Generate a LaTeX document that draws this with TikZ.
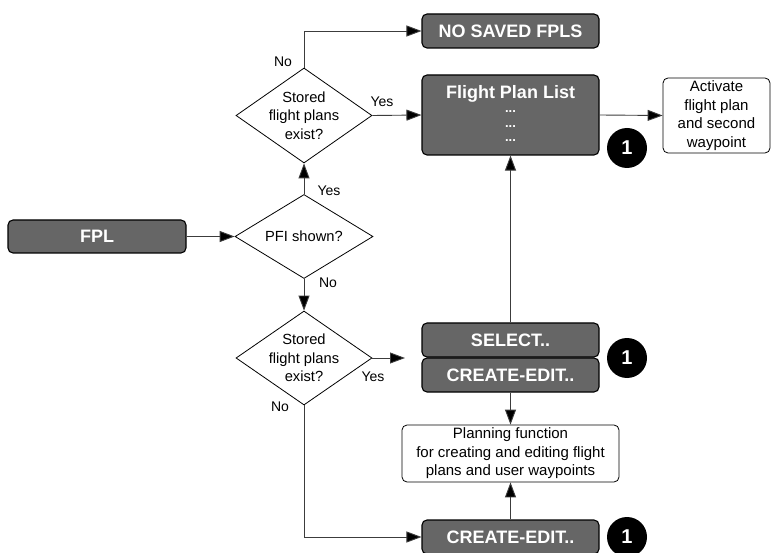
\documentclass[tikz,border=0pt]{standalone}
\usepackage{fontspec}
\setmainfont{Liberation Sans}
\usetikzlibrary{arrows.meta,shapes.geometric}
\definecolor{boxgray}{RGB}{102,102,102}
\definecolor{linegray}{RGB}{60,60,60}
\begin{document}
\begin{tikzpicture}[x=1pt,y=-1pt,
  dark/.style={draw=black,line width=1.1pt,fill=boxgray,rounded corners=5pt,
     text=white,font=\fontsize{18}{21}\selectfont\bfseries,
     minimum width=177pt,minimum height=34pt,inner sep=0pt},
  light/.style={draw=black,line width=0.8pt,fill=white,rounded corners=5pt,
     align=center,font=\fontsize{15}{18.5}\selectfont,inner sep=0pt},
  dia/.style={draw=black,line width=0.8pt,shape=diamond,inner sep=0pt},
  dtext/.style={align=center,font=\fontsize{14.7}{18.5}\selectfont,inner sep=0pt},
  lbl/.style={font=\fontsize{14}{16}\selectfont,inner sep=0pt},
  dots/.style={text=white,font=\fontsize{13}{14}\selectfont\bfseries,inner sep=0pt},
  badge/.style={circle,fill=black,minimum size=40pt,inner sep=0pt,text=white,
     font=\fontsize{20}{22}\selectfont\bfseries},
  arr/.style={draw=linegray,line width=0.9pt,-{Triangle[length=15pt,width=11pt,fill=black]}},
  ln/.style={draw=linegray,line width=0.9pt}]
\useasboundingbox (0,0) rectangle (771,553);
\fill[white] (0,0) rectangle (771,553);

% boxes
\node[dark,minimum width=178pt,minimum height=33pt] (fpl) at (97,236.5) {FPL};
\node[dark] (nosaved) at (510.5,31) {NO SAVED FPLS};
\node[dark,minimum height=80pt] (list) at (510.5,115) {};
\node[text=white,font=\fontsize{18}{21}\selectfont\bfseries,inner sep=0pt] (listtitle) at (510.5,94) {Flight Plan List};
\node[dots] (d1) at (510.5,112) {...};
\node[dots] (d2) at (510.5,126.5) {...};
\node[dots] (d3) at (510.5,141) {...};
\node[light,minimum width=107pt,minimum height=75pt] (activate) at (716.5,115.5)
  {Activate\\flight plan\\and second\\waypoint};
\node[dark] (select) at (510.5,340) {SELECT..};
\node[dark] (create1) at (510.5,375) {CREATE-EDIT..};
\node[light,minimum width=217pt,minimum height=57pt] (plan) at (510.5,453.5)
  {Planning function\\for creating and editing flight\\plans and user waypoints};
\node[dark] (create2) at (510.5,537) {CREATE-EDIT..};

% badges
\node[badge] (b1) at (627,148) {1};
\node[badge] (b2) at (627,358) {1};
\node[badge] (b3) at (627,537) {1};

% diamonds
\node[dia,minimum width=136pt,minimum height=95pt] (dup) at (304,115.5) {};
\node[dtext] (duptext) at (304,115.5) {Stored\\flight plans\\exist?};
\node[dia,minimum width=138pt,minimum height=84pt] (pfi) at (304,236.5) {};
\node[dtext] (pfitext) at (304,236.5) {PFI shown?};
\node[dia,minimum width=136pt,minimum height=94pt] (dlow) at (304,358) {};
\node[dtext] (dlowtext) at (304,358) {Stored\\flight plans\\exist?};

% connectors
\coordinate (lowend) at (405,358);
\draw[arr] (fpl.east) -- (pfi.west);
\draw[arr] (pfi.north) -- (dup.south);
\draw[arr] (pfi.south) -- (dlow.north);
\draw[arr] (dup.north) |- (nosaved.west);
\draw[arr] (dup.east) -- (list.west);
\draw[arr] (list.east) -- (activate.west);
\draw[arr] (select.north) -- (list.south);
\draw[arr] (dlow.east) -- (lowend);
\draw[arr] (create1.south) -- (plan.north);
\draw[arr] (create2.north) -- (plan.south);
\draw[arr] (dlow.south) |- (create2.west);

% labels
\node[lbl] (l1) at (283,62) {No};
\node[lbl] (l2) at (382,102) {Yes};
\node[lbl] (l3) at (329,191) {Yes};
\node[lbl] (l4) at (328,283) {No};
\node[lbl] (l5) at (373,377) {Yes};
\node[lbl] (l6) at (280,407) {No};
\end{tikzpicture}
\end{document}
